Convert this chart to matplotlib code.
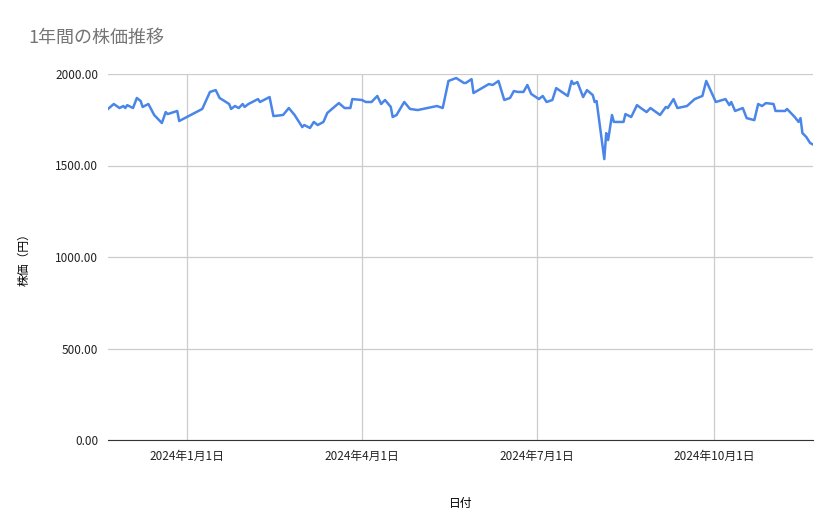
import matplotlib
matplotlib.use("Agg")
import matplotlib.pyplot as plt
import numpy as np
import pandas as pd

plt.rcParams['font.family'] = ['Noto Sans CJK JP', 'DejaVu Sans']

start_date = "2023-11-21"
day_offsets = [0,3,6,8,9,10,13,15,17,18,21,24,28,30,31,36,37,49,53,56,58,63,64,66,68,70,71,73,78,79,84,86,91,94,97,101,102,105,107,109,112,114,120,123,126,127,132,134,137,140,142,144,147,148,150,154,157,161,171,174,177,181,185,186,189,190,198,200,203,206,209,211,213,216,218,220,224,226,228,231,233,239,241,242,244,247,249,252,253,254,258,259,260,262,263,268,269,272,275,277,280,282,287,290,291,294,296,301,305,309,311,316,321,323,324,326,330,332,336,338,340,342,346,347,352,353,357,359,360,361,363,365,367]
prices = [1809,1836,1814,1825,1814,1830,1814,1869,1852,1820,1836,1776,1732,1792,1781,1798,1743,1809,1902,1912,1869,1836,1809,1825,1814,1836,1820,1836,1863,1847,1874,1770,1776,1814,1776,1710,1721,1705,1738,1721,1738,1787,1841,1814,1814,1863,1858,1847,1847,1880,1836,1858,1820,1765,1776,1847,1809,1803,1825,1814,1962,1978,1951,1951,1972,1896,1945,1940,1962,1858,1869,1907,1902,1902,1940,1891,1863,1880,1847,1858,1923,1880,1962,1945,1956,1874,1912,1885,1847,1852,1535,1677,1639,1776,1738,1738,1781,1765,1830,1814,1792,1814,1776,1820,1814,1863,1814,1825,1863,1880,1962,1847,1863,1830,1847,1798,1814,1759,1748,1836,1825,1841,1836,1798,1798,1809,1765,1738,1759,1677,1656,1623,1612]
tick_dates = ["2024-01-01", "2024-04-01", "2024-07-01", "2024-10-01"]
tick_labels = ["2024年1月1日", "2024年4月1日", "2024年7月1日", "2024年10月1日"]
y_ticks = [0, 500, 1000, 1500, 2000]

dates = pd.Timestamp(start_date) + pd.to_timedelta(day_offsets, unit="D")

fig = plt.figure(figsize=(8.39, 5.19), dpi=100)
ax = fig.add_axes([108/839, 1-440/519, (813-108)/839, (440-74)/519])
ax.plot(dates, prices, color="#4a86e8", lw=1.8, solid_joinstyle="round")
ax.set_xlim(pd.Timestamp(start_date), pd.Timestamp(start_date) + pd.Timedelta(days=366.5))
ax.set_ylim(0, 2000)
ax.set_yticks(y_ticks)
ax.set_yticklabels([f"{v:.2f}" for v in y_ticks], fontsize=8.5, color="#222222")
ax.set_xticks(pd.to_datetime(tick_dates))
ax.set_xticklabels(tick_labels, fontsize=8.5, color="#222222")
ax.grid(True, color="#cccccc", lw=0.9)
ax.set_axisbelow(True)
for s in ["top", "right", "left"]:
    ax.spines[s].set_visible(False)
ax.spines["bottom"].set_color("#333333")
ax.tick_params(length=0, pad=7)
ax.set_xlabel("日付", fontsize=8.5, labelpad=25)
ax.set_ylabel("株価（円）", fontsize=8.5, labelpad=18)
fig.text(28/839, 1-38/519, "1年間の株価推移", fontsize=13, color="#757575", va="center", ha="left")
fig.savefig("out.png", dpi=100)
